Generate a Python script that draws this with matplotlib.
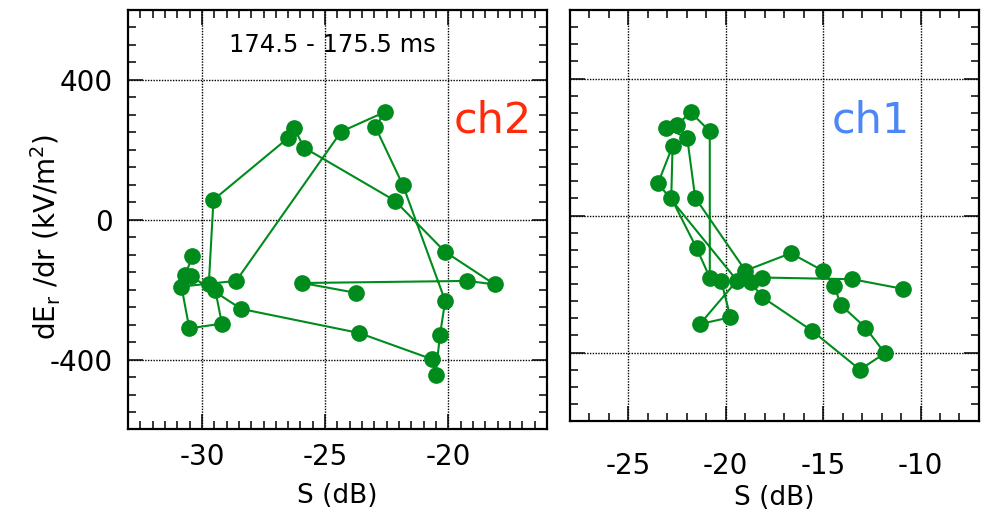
import matplotlib
matplotlib.use("Agg")
import matplotlib.pyplot as plt
from matplotlib.ticker import MultipleLocator

plt.rcParams["axes.unicode_minus"] = False

# ch2 trajectory (left panel), S in dB and dEr/dr in kV/m^2
ch2_s = [-23.76, -25.92, -19.23, -18.12, -20.13, -22.18, -25.85, -26.26, -26.50,
         -29.53, -29.72, -29.46, -29.19, -30.51, -30.83, -28.61, -24.35, -22.58,
         -22.96, -21.84, -20.13, -20.34, -20.52, -20.66, -23.62, -28.41, -30.43,
         -30.67, -30.39]
ch2_d = [-209, -181, -175, -185, -92, 55, 206, 262, 234,
         57, -184, -200, -297, -311, -191, -175, 252, 308,
         265, 98, -232, -329, -445, -399, -324, -255, -162,
         -157, -105]

# ch1 trajectory (right panel)
ch1_s = [-10.92, -13.50, -18.14, -18.69, -18.16, -15.58, -13.11, -11.83, -12.83,
         -14.10, -14.42, -15.02, -16.66, -18.99, -21.57, -21.98, -23.07, -22.49,
         -21.81, -20.82, -20.82, -21.50, -22.80, -22.73, -23.48, -19.42, -21.33,
         -19.76, -20.24]
ch1_d = [-214, -186, -181, -195, -237, -336, -450, -402, -327,
         -261, -205, -161, -110, -161, 52, 227, 255, 264,
         302, 246, -181, -95, 51, 203, 94, -190, -317,
         -297, -190]

time_label = "174.5 - 175.5 ms"
green = "#008c1c"

fig = plt.figure(figsize=(9.82, 5.14), dpi=100)
ax1 = fig.add_axes([0.1303, 0.1644, 0.4267, 0.8162])
ax2 = fig.add_axes([0.5804, 0.1809, 0.4165, 0.7996])


def style(ax, xlim, xmaj, xmin, xpad):
    ax.set_xlim(*xlim)
    ax.set_ylim(-600, 600)
    ax.xaxis.set_major_locator(MultipleLocator(xmaj))
    ax.xaxis.set_minor_locator(MultipleLocator(xmin))
    ax.yaxis.set_major_locator(MultipleLocator(400))
    ax.yaxis.set_minor_locator(MultipleLocator(50))
    ax.tick_params(which="both", direction="in", top=True, right=True, width=1.1)
    ax.tick_params(which="major", length=11)
    ax.tick_params(which="minor", length=5.5)
    ax.tick_params(axis="x", labelsize=20, pad=xpad)
    ax.tick_params(axis="y", labelsize=20, pad=11)
    for sp in ax.spines.values():
        sp.set_linewidth(1.6)
    ax.grid(True, which="major", color="black", linestyle=(0, (1, 1)), linewidth=1)
    ax.set_axisbelow(True)
    ax.set_xlabel("S (dB)", fontsize=19)


style(ax1, (-33, -16), 5, 0.5, 10)
style(ax2, (-28, -7), 5, 1, 22)

ax1.plot(ch2_s, ch2_d, "-o", color=green, lw=1.5, ms=11, zorder=3)
ax2.plot(ch1_s, ch1_d, "-o", color=green, lw=1.5, ms=11, zorder=3)

ax1.set_ylabel(r"dE$_\mathrm{r}$ /dr (kV/m$^2$)", fontsize=20)
ax1.yaxis.set_label_coords(-0.155, 0.459)
ax1.xaxis.set_label_coords(0.5, -0.128)
ax2.xaxis.set_label_coords(0.5, -0.156)
ax2.tick_params(axis="y", labelleft=False)

ax1.text(0.487, 0.9166, time_label, transform=ax1.transAxes, ha="center", va="center",
         fontsize=17.5)
ax1.text(0.871, 0.7068, "ch2", transform=ax1.transAxes, ha="center", va="baseline",
         fontsize=31, color="#ff2a0a")
ax2.text(0.736, 0.703, "ch1", transform=ax2.transAxes, ha="center", va="baseline",
         fontsize=31, color="#4b87f5")

fig.savefig("out.png", dpi=100)
